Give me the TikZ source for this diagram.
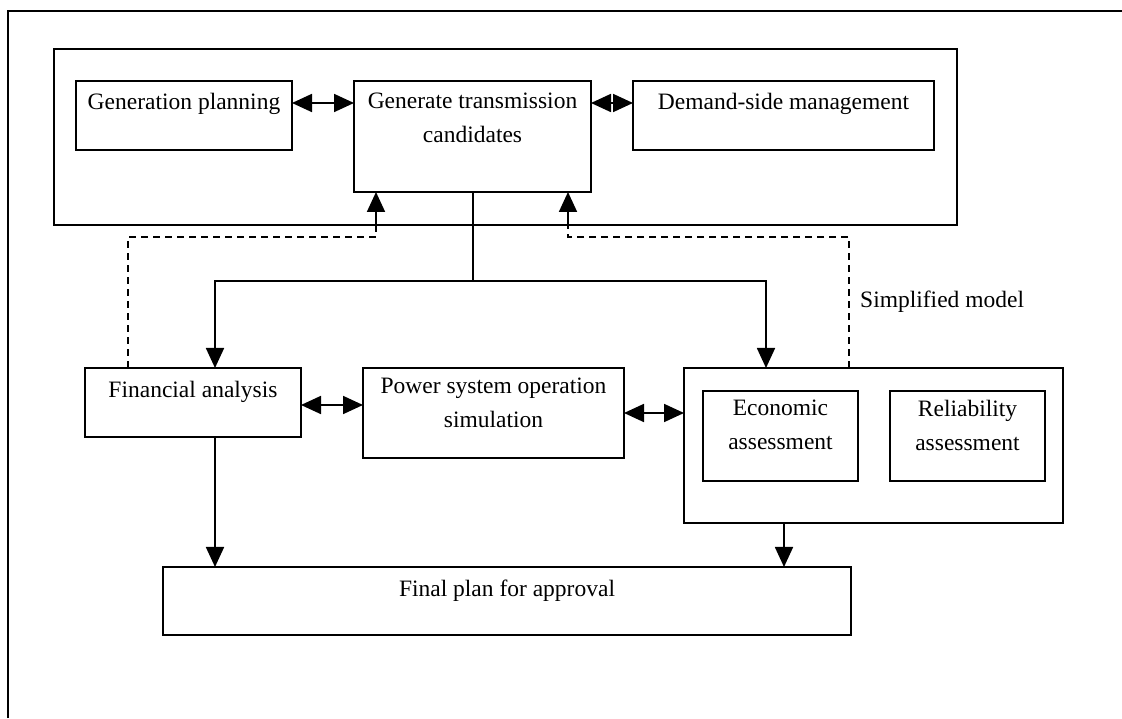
\documentclass[tikz,border=0pt]{standalone}
\usepackage{fontspec}
\setmainfont{Liberation Serif}
\usetikzlibrary{arrows.meta,calc}
\begin{document}
\begin{tikzpicture}[x=1pt,y=1pt,
  box/.style={draw=black,line width=2pt,minimum width=#1,inner sep=0pt,outer sep=0pt},
  txt/.style={font=\fontsize{23.5}{34}\selectfont,align=center,anchor=north,inner sep=0pt},
  arr/.style={line width=1.8pt,-{Triangle[length=20pt,width=18pt]}},
  dbl/.style={line width=1.8pt,{Triangle[length=20pt,width=18pt]}-{Triangle[length=20pt,width=18pt]}},
  dsh/.style={line width=1.8pt,dash pattern=on 7pt off 5pt},
  frame/.style={line width=1.8pt}]
\useasboundingbox (0,0) rectangle (1122,718);
% outer frame
\coordinate (fa1) at (8,0);
\coordinate (fa2) at (8,707);
\coordinate (fa3) at (1122,707);
\draw[frame] (fa1) -- (fa2) -- (fa3);
% boxes
\node[box=903pt,minimum height=176pt] (top) at (505.5,581) {};
\node[box=216pt,minimum height=69pt] (gp) at (184,602.5) {};
\node[box=237pt,minimum height=111pt] (gtc) at (472.5,581.5) {};
\node[box=301pt,minimum height=69pt] (dsm) at (783.5,602.5) {};
\node[box=216pt,minimum height=69pt] (fa) at (193,315.5) {};
\node[box=261pt,minimum height=90pt] (psos) at (493.5,305) {};
\node[box=379pt,minimum height=155pt] (rb) at (873.5,272.5) {};
\node[box=155pt,minimum height=90pt] (econ) at (780.5,282) {};
\node[box=155pt,minimum height=90pt] (rel) at (967.5,282) {};
\node[box=688pt,minimum height=68pt] (final) at (507,117) {};
% texts
\node[txt] (tgp) at ([yshift=-12]gp.north) {Generation planning};
\node[txt] (tgtc) at ([yshift=-12]gtc.north) {Generate transmission\\candidates};
\node[txt] (tdsm) at ([yshift=-12]dsm.north) {Demand-side management};
\node[txt] (tfa) at ([yshift=-13]fa.north) {Financial analysis};
\node[txt] (tpsos) at ([yshift=-10]psos.north) {Power system operation\\simulation};
\node[txt] (tecon) at ([yshift=-9]econ.north) {Economic\\assessment};
\node[txt] (trel) at ([yshift=-9]rel.north) {Reliability\\assessment};
\node[txt] (tfinal) at ([yshift=-13]final.north) {Final plan for approval};
% double arrows top row
\draw[dbl] ([yshift=12.5]gp.east) -- ([yshift=12.5]gp.east -| gtc.west);
\draw[dbl] ([yshift=12.5]dsm.west -| gtc.east) -- ([yshift=12.5]dsm.west);
% split from gtc
\coordinate (gs) at ([xshift=0.5]gtc.south);
\coordinate (split) at ([yshift=-89]gs);
\draw[line width=1.8pt] (gs) -- (split);
\draw[arr] (split) -| ([xshift=22]fa.north);
\draw[arr] (split) -| ([xshift=-107.5]rb.north);
% dashed feedback
\coordinate (dl) at ([xshift=-65]fa.north);
\coordinate (ul) at ([xshift=-96.5]gtc.south |- 0,481);
\draw[dsh] (dl) |- (ul) -- (ul |- top.south);
\draw[arr] ([xshift=-96.5]gtc.south |- top.south) -- ([xshift=-96.5]gtc.south);
\coordinate (dr) at ([xshift=-24.5]rb.north);
\coordinate (ur) at ([xshift=95.5]gtc.south |- 0,481);
\draw[dsh] (dr) |- (ur) -- (ur |- top.south);
\draw[arr] ([xshift=95.5]gtc.south |- top.south) -- ([xshift=95.5]gtc.south);
\node[font=\fontsize{23.5}{34}\selectfont,anchor=base west,inner sep=0pt] (sm) at ([xshift=11]dr |- 0,410) {Simplified model};
% middle row
\draw[dbl] ([yshift=-2.5]fa.east) -- ([yshift=-2.5]fa.east -| psos.west);
\draw[dbl] (psos.east) -- (psos.east -| rb.west);
% to final
\draw[arr] ([xshift=22]fa.south) -- ([xshift=22]fa.south |- final.north);
\draw[arr] ([xshift=-89.5]rb.south) -- ([xshift=-89.5]rb.south |- final.north);
\end{tikzpicture}
\end{document}
